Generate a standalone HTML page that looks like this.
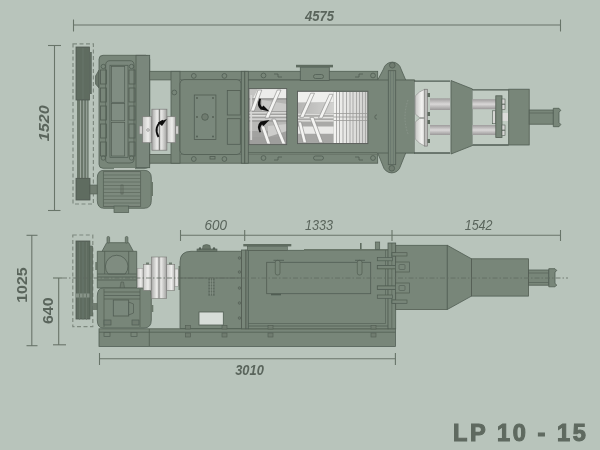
<!DOCTYPE html>
<html><head><meta charset="utf-8">
<style>
html,body{margin:0;padding:0;background:#b8c4bb;}
body{width:600px;height:450px;overflow:hidden;}
svg{display:block;}
.t{font-family:"Liberation Sans",sans-serif;font-style:italic;font-weight:bold;fill:#5a655c;font-size:14px;}
.tr{font-family:"Liberation Sans",sans-serif;font-style:italic;fill:#5a655c;font-size:14px;}
.tb{font-family:"Liberation Sans",sans-serif;font-weight:bold;fill:#5a655c;font-size:14px;}
.lp{font-family:"Liberation Sans",sans-serif;font-weight:bold;font-size:23.5px;fill:#5f6a60;stroke:#5f6a60;stroke-width:1.1px;}
</style></head><body>
<svg width="600" height="450" viewBox="0 0 600 450">
<defs>
<linearGradient id="cylv" x1="0" y1="0" x2="0" y2="1">
<stop offset="0" stop-color="#8f8f8d"/><stop offset="0.45" stop-color="#f4f4f2"/><stop offset="1" stop-color="#8a8a88"/>
</linearGradient>
<linearGradient id="cylh" x1="0" y1="0" x2="1" y2="0">
<stop offset="0" stop-color="#a8a8a6"/><stop offset="0.35" stop-color="#ececea"/><stop offset="0.5" stop-color="#c8c8c6"/><stop offset="0.65" stop-color="#e6e6e4"/><stop offset="1" stop-color="#a0a09e"/>
</linearGradient>
<linearGradient id="dome" x1="0" y1="0" x2="1" y2="0">
<stop offset="0" stop-color="#c4c4c2"/><stop offset="0.55" stop-color="#f4f4f2"/><stop offset="1" stop-color="#a2a2a0"/>
</linearGradient>
<linearGradient id="rod" x1="0" y1="0" x2="0" y2="1">
<stop offset="0" stop-color="#9e9c9c"/><stop offset="0.5" stop-color="#d9d7d7"/><stop offset="1" stop-color="#9a9898"/>
</linearGradient>
<linearGradient id="scr" x1="0" y1="0" x2="1" y2="0">
<stop offset="0" stop-color="#f4f4f2"/><stop offset="1" stop-color="#cfcfcd"/>
</linearGradient>
<linearGradient id="band" x1="0" y1="0" x2="1" y2="0">
<stop offset="0" stop-color="#b5b5b3"/><stop offset="1" stop-color="#d2d2d0"/>
</linearGradient>
<linearGradient id="hub" x1="0" y1="0" x2="1" y2="0">
<stop offset="0" stop-color="#c6c6c4"/><stop offset="0.6" stop-color="#eeeeec"/><stop offset="1" stop-color="#b2b2b0"/>
</linearGradient>
<filter id="soft" x="0" y="0" width="600" height="450" filterUnits="userSpaceOnUse"><feGaussianBlur stdDeviation="0.4"/></filter>
</defs>
<rect x="0" y="0" width="600" height="450" fill="#b8c4bb"/>
<g filter="url(#soft)"><!-- ============ TOP VIEW ============ -->
<g id="top">
<g stroke="#687469" stroke-width="1.1" fill="none">
<line x1="73" y1="25" x2="560.5" y2="25"/>
<line x1="73.5" y1="19.5" x2="73.5" y2="31.5"/>
<line x1="560.5" y1="19.5" x2="560.5" y2="31.5"/>
<line x1="54.5" y1="45" x2="54.5" y2="211"/>
<line x1="48" y1="45.5" x2="61" y2="45.5"/>
<line x1="48" y1="210.5" x2="60.5" y2="210.5"/>
</g>
<text class="t" x="305" y="20.6" textLength="29" lengthAdjust="spacingAndGlyphs">4575</text>
<text class="t" transform="translate(48.8,141.3) rotate(-90)" x="0" y="0" textLength="36" lengthAdjust="spacingAndGlyphs">1520</text>

<!-- pulley / belts -->
<rect x="73" y="43.8" width="20.4" height="160.2" fill="none" stroke="#7f8a80" stroke-width="1.2" stroke-dasharray="4,2.5"/>
<rect x="77" y="99" width="11.6" height="80" fill="#6a776b"/>
<g stroke="#a3aea4" stroke-width="0.9"><line x1="80.5" y1="99" x2="80.5" y2="178"/><line x1="83.7" y1="99" x2="83.7" y2="178"/><line x1="86.7" y1="99" x2="86.7" y2="178"/></g>
<rect x="76" y="47" width="13.4" height="53" fill="#5f6c61" stroke="#4f5a51" stroke-width="0.8"/>
<rect x="89.4" y="52" width="2.4" height="42" fill="#5f6c61"/>
<line x1="83" y1="48" x2="83" y2="99" stroke="#6c786d" stroke-width="0.8"/>
<rect x="76" y="178.3" width="14" height="21.7" fill="#5f6c61" stroke="#4f5a51" stroke-width="0.8"/>
<rect x="90" y="185" width="7.5" height="9" fill="#6f7c70" stroke="#515d53" stroke-width="0.6"/>

<!-- gearbox top -->
<path d="M99,70 L95.5,76 L95.5,84 L99,88 Z" fill="#6a776b" stroke="#515d53" stroke-width="0.7"/>
<rect x="99" y="55.3" width="50.7" height="113" rx="4" fill="#788679" stroke="#515d53" stroke-width="0.8"/>
<rect x="136" y="55.3" width="13.7" height="112.4" fill="#7a877b" stroke="#515d53" stroke-width="0.8"/>
<path d="M105.7,65 Q105.7,60.7 110,60.7 L130,60.7 Q134,60.7 134,65 L134,160 Q134,163 130,163 L110,163 Q105.7,163 105.7,160 Z" fill="#7a877b" stroke="#515d53" stroke-width="0.8"/>
<rect x="110" y="65.3" width="18" height="92" fill="#7f8c80" stroke="#515d53" stroke-width="0.8"/>
<rect x="111.5" y="66.5" width="13.2" height="35.8" fill="#808d82" stroke="#515d53" stroke-width="0.7"/>
<rect x="111.5" y="103.5" width="13.2" height="17.3" fill="#808d82" stroke="#515d53" stroke-width="0.7"/>
<rect x="111.5" y="122.4" width="13.2" height="33.6" fill="#808d82" stroke="#515d53" stroke-width="0.7"/>
<g stroke="#515d53" stroke-width="0.8" fill="none">
<rect x="100.5" y="70" width="6" height="14"/><rect x="100.5" y="88" width="6" height="14"/><rect x="100.5" y="106" width="6" height="14"/><rect x="100.5" y="124" width="6" height="14"/><rect x="100.5" y="142" width="6" height="14"/>
<rect x="129" y="70" width="6" height="14"/><rect x="129" y="88" width="6" height="14"/><rect x="129" y="106" width="6" height="14"/><rect x="129" y="124" width="6" height="14"/><rect x="129" y="142" width="6" height="14"/>
<circle cx="103.3" cy="66.5" r="2.2"/><circle cx="131.5" cy="66.5" r="2.2"/><circle cx="103.3" cy="158" r="2.2"/><circle cx="131.5" cy="158" r="2.2"/>
</g>
<rect x="114" y="168.2" width="21" height="2.2" fill="#cdd5ce"/>

<!-- motor top -->
<path d="M104,170.3 L144,170.3 Q151.3,170.3 151.3,178 L151.3,200.5 Q151.3,208.3 144,208.3 L104,208.3 Q97.3,208.3 97.3,200.5 L97.3,178 Q97.3,170.3 104,170.3 Z" fill="#788679" stroke="#515d53" stroke-width="0.8"/>
<rect x="151" y="182" width="2" height="14" fill="#6a776b"/>
<rect x="103.3" y="171.7" width="37.4" height="34.6" fill="#7d8a7e" stroke="#515d53" stroke-width="0.7"/>
<g stroke="#5b675c" stroke-width="0.7">
<line x1="103.3" y1="175" x2="140.7" y2="175"/><line x1="103.3" y1="178.5" x2="140.7" y2="178.5"/><line x1="103.3" y1="182" x2="140.7" y2="182"/><line x1="103.3" y1="185.5" x2="140.7" y2="185.5"/><line x1="103.3" y1="189" x2="140.7" y2="189"/><line x1="103.3" y1="192.5" x2="140.7" y2="192.5"/><line x1="103.3" y1="196" x2="140.7" y2="196"/><line x1="103.3" y1="199.5" x2="140.7" y2="199.5"/><line x1="103.3" y1="203" x2="140.7" y2="203"/>
</g>
<rect x="121" y="185" width="2" height="9" fill="none" stroke="#515d53" stroke-width="0.6"/>
<rect x="114" y="206" width="14.7" height="6.6" fill="#788679" stroke="#515d53" stroke-width="0.7"/>

<!-- frame beams -->
<rect x="149.7" y="71.3" width="228" height="8.6" fill="#788679" stroke="#515d53" stroke-width="0.8"/>
<rect x="149.7" y="154.5" width="228" height="8.7" fill="#788679" stroke="#515d53" stroke-width="0.8"/>
<rect x="171" y="71.3" width="9" height="91.9" fill="#788679" stroke="#515d53" stroke-width="0.8"/>

<!-- coupling top -->
<rect x="139.5" y="126" width="3.5" height="8" fill="#cfcfcd" stroke="#858583" stroke-width="0.5"/>
<rect x="175.3" y="126" width="3" height="8" fill="#cfcfcd" stroke="#858583" stroke-width="0.5"/>
<rect x="142.6" y="116.7" width="9.3" height="26" fill="url(#hub)" stroke="#7d7d7b" stroke-width="0.7"/>
<rect x="166.9" y="116.7" width="8.6" height="26" fill="url(#hub)" stroke="#7d7d7b" stroke-width="0.7"/>
<rect x="151.9" y="109.2" width="15" height="41" fill="url(#cylh)" stroke="#7d7d7b" stroke-width="0.7"/>
<line x1="159.4" y1="109.2" x2="159.4" y2="150.2" stroke="#6f6f6d" stroke-width="0.9"/>
<circle cx="148" cy="130" r="1.3" fill="none" stroke="#777" stroke-width="0.6"/>
<path d="M158.5,137 C155,131 156,124 163,120.5" stroke="#111" stroke-width="1.9" fill="none"/>
<path d="M157.8,122.5 L167,119 L162,126 Z" fill="#111"/>

<!-- body -->
<rect x="180" y="80" width="200" height="74.5" fill="#788679"/>
<rect x="180" y="79.6" width="61" height="74.9" rx="4" fill="#788679" stroke="#515d53" stroke-width="0.8"/>
<rect x="194.3" y="95" width="21.6" height="44.5" fill="#7a887b" stroke="#515d53" stroke-width="0.8"/>
<circle cx="205" cy="117" r="3.3" fill="#6f7c70" stroke="#515d53" stroke-width="0.8"/>
<g fill="#515d53"><circle cx="197" cy="98" r="0.9"/><circle cx="213" cy="98" r="0.9"/><circle cx="197" cy="136.5" r="0.9"/><circle cx="213" cy="136.5" r="0.9"/><circle cx="197" cy="117" r="0.9"/><circle cx="213" cy="117" r="0.9"/></g>
<rect x="227.3" y="90.5" width="13" height="24.5" fill="#788679" stroke="#515d53" stroke-width="0.8"/>
<rect x="227.3" y="118.7" width="13" height="25.6" fill="#788679" stroke="#515d53" stroke-width="0.8"/>
<g fill="none" stroke="#515d53" stroke-width="0.8">
<circle cx="193.8" cy="75.9" r="2.4"/><circle cx="224.4" cy="75.9" r="2.4"/><circle cx="174.3" cy="92.5" r="2.4"/>
<circle cx="193.8" cy="159" r="2.4"/><circle cx="224.4" cy="159" r="2.4"/>
<rect x="210" y="156.5" width="5" height="2.5"/>
</g>
<rect x="241.3" y="71.3" width="3.5" height="91.9" fill="#788679" stroke="#515d53" stroke-width="0.8"/>
<rect x="244.8" y="71.3" width="3.5" height="91.9" fill="#788679" stroke="#515d53" stroke-width="0.8"/>
<line x1="248" y1="80" x2="377.7" y2="80" stroke="#515d53" stroke-width="0.8"/>
<line x1="248" y1="152.7" x2="377.7" y2="152.7" stroke="#515d53" stroke-width="0.8"/>

<!-- hopper top -->
<rect x="300.3" y="67" width="29" height="13.5" fill="#788679" stroke="#515d53" stroke-width="0.8"/>
<rect x="296" y="64.8" width="37" height="2.6" fill="#5f6c61"/>
<rect x="313.5" y="74.5" width="10" height="4" rx="2" fill="none" stroke="#515d53" stroke-width="0.8"/>
<rect x="313.5" y="156" width="10" height="4" rx="2" fill="none" stroke="#515d53" stroke-width="0.8"/>
<g fill="none" stroke="#515d53" stroke-width="0.8">
<circle cx="263.5" cy="75.5" r="2.4"/><circle cx="373" cy="75.5" r="2.4"/>
<circle cx="263.5" cy="158" r="2.4"/><circle cx="373" cy="158" r="2.4"/>
<path d="M274,74 L278,74 L278,77 L282,77"/><path d="M363,74 L359,74 L359,77 L355,77"/>
<path d="M274,160 L278,160 L278,157 L282,157"/><path d="M363,160 L359,160 L359,157 L355,157"/>
</g>

<!-- screw window 1 -->
<g>
<rect x="248.9" y="88.6" width="37.8" height="56" fill="#a2a2a0"/>
<path d="M257,89 L287,89 L287,98 L253,98 Z" fill="#ececea"/>
<path d="M249,89 L258,89 L253,98 L249,98 Z" fill="#c4c4c2"/>
<path d="M249,100 L287,100 L287,111 L249,111 Z" fill="#b4b4b2"/>
<path d="M262,100 L287,104 L287,111 L262,111 Z" fill="#cacac8"/>
<rect x="249" y="112" width="38" height="1.6" fill="#d6d6d4"/>
<rect x="249" y="115" width="38" height="1.6" fill="#e0e0de"/>
<rect x="249" y="118.3" width="38" height="1.6" fill="#d6d6d4"/>
<path d="M249,122 L287,122 L287,131 L249,131 Z" fill="#b8b8b6"/>
<path d="M268,126 L287,124 L287,131 L268,137 Z" fill="#cdcdcb"/>
<rect x="249" y="137" width="38" height="7.5" fill="#9e9e9c"/>
<rect x="250.3" y="95" width="1.8" height="45" fill="#d6d6d4"/>
<g fill="#f4f4f2" stroke="#858583" stroke-width="0.6">
<path d="M250.5,111 L258,90 L261.8,90 L254.3,111 Z"/>
<path d="M265,118 L277.3,90 L281,90 L268.7,118 Z"/>
<path d="M260.8,126 L264.5,126 L270.7,144 L267,144 Z"/>
<path d="M271.8,119 L275.5,119 L285.8,144 L282.1,144 Z"/>
</g>
<path d="M259.5,98.5 Q256,105 260.5,109.5 L269.5,111.5 L263.5,105.5 L262,107 Q259.5,104 261,99 Z" fill="#111"/>
<path d="M259.5,132.5 Q256,126 260.5,121.5 L269.5,120 L263.5,126 L262,124.5 Q259.5,127 261,132 Z" fill="#111"/>
<rect x="248.9" y="88.6" width="37.8" height="56" fill="none" stroke="#5a5f5b" stroke-width="0.9"/>
</g>

<!-- screw window 2 -->
<g>
<rect x="297.5" y="91.2" width="36.1" height="52.4" fill="#a9a9a7"/>
<path d="M298,92 L333.6,92 L333.6,102.6 L298,102.6 Z" fill="#efefed"/>
<path d="M298,103 L333.6,103 L333.6,113 L298,113 Z" fill="url(#band)"/>
<rect x="298" y="113.5" width="35.6" height="1.6" fill="#dcdcda"/>
<rect x="298" y="116.8" width="35.6" height="1.6" fill="#e4e4e2"/>
<rect x="298" y="120" width="35.6" height="1.6" fill="#dcdcda"/>
<path d="M298,126.5 L333.6,126.5 L333.6,133.7 L298,133.7 Z" fill="#e9e9e7"/>
<path d="M298,134 L333.6,134 L333.6,143 L298,143 Z" fill="#a6a6a4"/>
<g fill="#f4f4f2" stroke="#858583" stroke-width="0.6">
<path d="M299.8,117.4 L310.7,93.2 L314.5,93.2 L303.6,117.4 Z"/>
<path d="M318.5,118.2 L329.4,94.3 L333.2,94.3 L322.3,118.2 Z"/>
<path d="M309.9,117.4 L313.7,117.4 L323.1,142.8 L319.3,142.8 Z"/>
<path d="M298,122 L301.3,122 L306.7,142.8 L303.2,142.8 Z"/>
</g>
<rect x="333.6" y="92" width="34" height="51" fill="url(#scr)"/>
<g stroke="#a3a3a1" stroke-width="0.9">
<line x1="336.5" y1="92" x2="336.5" y2="143"/><line x1="339.5" y1="92" x2="339.5" y2="143"/><line x1="343" y1="92" x2="343" y2="143"/><line x1="346.5" y1="92" x2="346.5" y2="143"/><line x1="350" y1="92" x2="350" y2="143"/><line x1="353" y1="92" x2="353" y2="143"/><line x1="356.5" y1="92" x2="356.5" y2="143"/><line x1="359.5" y1="92" x2="359.5" y2="143"/><line x1="362.5" y1="92" x2="362.5" y2="143"/><line x1="365.5" y1="92" x2="365.5" y2="143"/>
</g>
<g stroke="#9a9a98" stroke-width="0.8">
<line x1="333.6" y1="113.5" x2="367" y2="113.5"/><line x1="333.6" y1="117" x2="367" y2="117"/><line x1="333.6" y1="120.5" x2="367" y2="120.5"/>
</g>
<rect x="297.5" y="91.2" width="70.4" height="52.4" fill="none" stroke="#5a5f5b" stroke-width="0.9"/>
</g>
<circle cx="377" cy="117" r="2.2" fill="none" stroke="#515d53" stroke-width="0.8"/>

<!-- flange -->
<rect x="377" y="79.5" width="37.7" height="74" fill="#788679"/>
<path d="M377.7,80 L383.5,69 A9,9 0 0 1 401,69 L405.7,80" fill="#788679" stroke="#515d53" stroke-width="0.8"/>
<path d="M377.7,153 L383,166 A9,9 0 0 0 400.5,166 L405.7,153" fill="#788679" stroke="#515d53" stroke-width="0.8"/>
<line x1="377" y1="80" x2="414.7" y2="80" stroke="#515d53" stroke-width="0.8"/>
<line x1="377" y1="153" x2="414.7" y2="153" stroke="#515d53" stroke-width="0.8"/>
<line x1="414.7" y1="80" x2="414.7" y2="153" stroke="#515d53" stroke-width="0.8"/>
<rect x="388.3" y="70.7" width="7.4" height="94" fill="#788679" stroke="#515d53" stroke-width="0.8"/>
<line x1="390.5" y1="71" x2="390.5" y2="164" stroke="#65726a" stroke-width="0.6"/>
<line x1="393.5" y1="71" x2="393.5" y2="164" stroke="#65726a" stroke-width="0.6"/>
<circle cx="392.3" cy="65.3" r="2.8" fill="#6f7c70" stroke="#515d53" stroke-width="0.8"/>
<circle cx="391.8" cy="168.3" r="2.8" fill="#6f7c70" stroke="#515d53" stroke-width="0.8"/>

<!-- head -->
<rect x="414.7" y="81" width="35.3" height="72" fill="#c0cbc2"/>
<g stroke="#515d53" stroke-width="1.3"><line x1="414" y1="81.2" x2="450" y2="81.2"/><line x1="414" y1="153" x2="450" y2="153"/></g>
<path d="M408,100 Q402,117 408,134" fill="none" stroke="#8d988e" stroke-width="0.8" stroke-dasharray="1.5,1.5"/>
<path d="M451,80.5 L472.5,89 L472.5,145.5 L451,154 Z" fill="#788679" stroke="#515d53" stroke-width="0.8"/>
<rect x="472.5" y="90" width="36.2" height="55" fill="#c0cbc2"/>
<g stroke="#515d53" stroke-width="1.3"><line x1="472.5" y1="89.8" x2="508.7" y2="89.8"/><line x1="472.5" y1="145" x2="508.7" y2="145"/></g>
<rect x="508.7" y="89.2" width="20.5" height="55.8" fill="#788679" stroke="#515d53" stroke-width="0.8"/>
<rect x="529.2" y="110" width="24.1" height="14.2" fill="#788679" stroke="#515d53" stroke-width="0.8"/>
<line x1="529.2" y1="113" x2="553.3" y2="113" stroke="#515d53" stroke-width="0.6"/>
<path d="M553.3,108.3 L559,108.3 L560.8,110.5 L559,112 L559,122.5 L560.8,124.5 L559,126.7 L553.3,126.7 Z" fill="#788679" stroke="#515d53" stroke-width="0.8"/>

<!-- domes -->
<path d="M424.5,89.3 L427.5,89.3 L427.5,117.5 L419.5,117.5 L415.2,114 L415.2,96 Q419,91.5 424.5,89.3 Z" fill="url(#dome)" stroke="#8a8a88" stroke-width="0.6"/>
<path d="M424.5,146 L427.5,146 L427.5,118.5 L419.5,118.5 L415.2,122 L415.2,139 Q419,143.5 424.5,146 Z" fill="url(#dome)" stroke="#8a8a88" stroke-width="0.6"/>
<rect x="424.3" y="89.3" width="3.4" height="56.7" fill="#bcbcba" stroke="#7a7a78" stroke-width="0.6"/>
<g fill="#5f6c61"><rect x="427.5" y="93" width="2.5" height="4"/><rect x="427.5" y="112" width="2.5" height="4"/><rect x="427.5" y="120" width="2.5" height="4"/><rect x="427.5" y="139" width="2.5" height="4"/></g>
<rect x="430" y="98.3" width="20" height="11.7" fill="url(#rod)"/>
<rect x="430" y="125" width="20" height="10" fill="url(#rod)"/>
<rect x="472.5" y="99.2" width="24" height="10" fill="url(#rod)"/>
<rect x="472.5" y="125" width="24" height="10" fill="url(#rod)"/>
<rect x="492.5" y="110.8" width="3.3" height="12.9" fill="#d6d6d4" stroke="#515d53" stroke-width="0.6"/>
<rect x="502" y="113" width="6" height="8" fill="#dcdcda"/>
<rect x="495.8" y="95.8" width="6.2" height="41.7" fill="#788679" stroke="#515d53" stroke-width="0.8"/>
<g fill="#d6d6d4" stroke="#515d53" stroke-width="0.6"><rect x="502" y="99" width="3" height="5"/><rect x="502" y="104.5" width="3" height="5"/><rect x="502" y="125" width="3" height="5"/><rect x="502" y="130.5" width="3" height="5"/></g>
</g>
<!-- ============ SIDE VIEW ============ -->
<g id="side">
<g stroke="#687469" stroke-width="1.1" fill="none">
<line x1="180" y1="235.3" x2="560.5" y2="235.3"/>
<line x1="180.5" y1="230" x2="180.5" y2="241"/>
<line x1="244.7" y1="230" x2="244.7" y2="241"/>
<line x1="392" y1="230" x2="392" y2="241"/>
<line x1="560.5" y1="230" x2="560.5" y2="241"/>
<line x1="31.8" y1="235" x2="31.8" y2="346"/>
<line x1="26.5" y1="235.3" x2="37.5" y2="235.3"/>
<line x1="26.5" y1="345.7" x2="37.5" y2="345.7"/>
<line x1="58.7" y1="278" x2="58.7" y2="345"/>
<line x1="53" y1="278" x2="62" y2="278"/>
<line x1="53" y1="344.8" x2="66" y2="344.8"/>
<line x1="99.5" y1="358.8" x2="395.4" y2="358.8"/>
<line x1="99.5" y1="353" x2="99.5" y2="365"/>
<line x1="395.4" y1="353" x2="395.4" y2="365"/>
</g>
<text class="tr" x="204.5" y="230.3" textLength="22.5" lengthAdjust="spacingAndGlyphs">600</text>
<text class="tr" x="305" y="230.3" textLength="28" lengthAdjust="spacingAndGlyphs">1333</text>
<text class="tr" x="464.7" y="230.3" textLength="27.8" lengthAdjust="spacingAndGlyphs">1542</text>
<text class="t" x="235.2" y="375.4" textLength="28.6" lengthAdjust="spacingAndGlyphs">3010</text>
<text class="tb" transform="translate(26.8,302.8) rotate(-90)" x="0" y="0" textLength="35.5" lengthAdjust="spacingAndGlyphs">1025</text>
<text class="tb" transform="translate(53.3,324) rotate(-90)" x="0" y="0" textLength="26.5" lengthAdjust="spacingAndGlyphs">640</text>

<!-- pulley dashed -->
<rect x="72.8" y="235" width="20" height="91.7" fill="none" stroke="#7f8a80" stroke-width="1.2" stroke-dasharray="4,2.5"/>
<rect x="76" y="241" width="13.9" height="78" fill="#5f6c61" stroke="#4f5a51" stroke-width="0.8"/>
<g stroke="#6f7b70" stroke-width="0.7"><line x1="79.5" y1="242" x2="79.5" y2="320"/><line x1="83" y1="242" x2="83" y2="320"/><line x1="86.5" y1="242" x2="86.5" y2="320"/></g>
<rect x="76" y="293.5" width="13.9" height="4" fill="#879388"/>
<g stroke="#5f6c61" stroke-width="0.8"><line x1="79.5" y1="293.5" x2="79.5" y2="297.5"/><line x1="83" y1="293.5" x2="83" y2="297.5"/><line x1="86.5" y1="293.5" x2="86.5" y2="297.5"/></g>
<rect x="89.9" y="246" width="2.8" height="70" fill="#6a776b" stroke="#515d53" stroke-width="0.5"/>
<rect x="92.7" y="303" width="4.6" height="7" fill="#6f7c70"/>

<!-- base rail -->
<rect x="99" y="328.8" width="296.4" height="17.6" fill="#788679" stroke="#515d53" stroke-width="0.8"/>
<line x1="99" y1="332.2" x2="395.4" y2="332.2" stroke="#515d53" stroke-width="0.8"/>
<line x1="149.3" y1="329" x2="149.3" y2="346" stroke="#515d53" stroke-width="0.8"/>

<!-- gearbox side -->
<path d="M97.3,251.3 L102,251.3 L106.7,242.7 L128.7,242.7 L133.3,251.3 L136.7,251.3 L136.7,288 L97.3,288 Z" fill="#788679" stroke="#515d53" stroke-width="0.8"/>
<g fill="#788679" stroke="#515d53" stroke-width="0.7"><rect x="107" y="236.5" width="2.6" height="6.5" rx="1.2"/><rect x="125.3" y="236.5" width="2.6" height="6.5" rx="1.2"/></g>
<line x1="102" y1="251.3" x2="133.3" y2="251.3" stroke="#515d53" stroke-width="0.8"/>
<path d="M108.2,274 A11.3,11.3 0 1 1 125.2,274 Z" fill="#7f8c80" stroke="#515d53" stroke-width="0.8"/>
<g stroke="#515d53" stroke-width="0.8"><line x1="104.7" y1="251.3" x2="104.7" y2="274"/><line x1="128.7" y1="251.3" x2="128.7" y2="274"/>
<line x1="97.3" y1="274" x2="136.7" y2="274"/><line x1="97.3" y1="277" x2="136.7" y2="277"/><line x1="97.3" y1="280" x2="136.7" y2="280"/></g>
<rect x="95.3" y="262" width="2" height="8" fill="#6a776b"/>
<path d="M120,288 L121,282 L123.5,282 L124.5,288 Z" fill="#6f7c70" stroke="#515d53" stroke-width="0.6"/>

<!-- motor side -->
<path d="M103,288 L140,288 L146,288 Q151.3,288 151.3,296 L151.3,320 Q151.3,328 144,328 L103,328 Q97.3,328 97.3,320 L97.3,296 Q97.3,288 103,288 Z" fill="#788679" stroke="#515d53" stroke-width="0.8"/>
<g stroke="#515d53" stroke-width="0.7"><line x1="104" y1="292" x2="140" y2="292"/><line x1="104" y1="295.5" x2="140" y2="295.5"/><line x1="104" y1="299" x2="140" y2="299"/><line x1="140" y1="289" x2="140" y2="327"/><line x1="104" y1="289" x2="104" y2="327"/></g>
<rect x="113.3" y="300" width="15.4" height="16" fill="#7a887b" stroke="#515d53" stroke-width="0.8"/>
<path d="M128.7,302 L133.5,304 L133.5,313 L128.7,315 Z" fill="#788679" stroke="#515d53" stroke-width="0.7"/>
<g fill="#6f7c70" stroke="#515d53" stroke-width="0.7"><rect x="104" y="320" width="7" height="5"/><rect x="132" y="320" width="7" height="5"/></g>
<rect x="151.3" y="305" width="2" height="7" fill="#6a776b"/>
<g fill="#788679" stroke="#515d53" stroke-width="0.7"><rect x="104" y="332.5" width="6" height="4"/><rect x="131" y="332.5" width="6" height="4"/></g>

<!-- coupling side -->
<rect x="137.3" y="268.3" width="6" height="19.4" fill="url(#hub)" stroke="#8a8a88" stroke-width="0.5"/>
<rect x="143.3" y="264.3" width="8" height="26" fill="url(#hub)" stroke="#7d7d7b" stroke-width="0.6"/>
<rect x="151.3" y="257" width="15.4" height="41.3" fill="url(#cylh)" stroke="#7d7d7b" stroke-width="0.6"/>
<line x1="159" y1="257" x2="159" y2="298.3" stroke="#6f6f6d" stroke-width="0.8"/>
<rect x="166.7" y="264.3" width="8" height="26" fill="url(#hub)" stroke="#7d7d7b" stroke-width="0.6"/>
<rect x="174.7" y="269" width="4" height="17.3" fill="url(#hub)" stroke="#8a8a88" stroke-width="0.5"/>
<rect x="178.5" y="266" width="2" height="24" fill="#6a776b"/>
<g fill="#6f7c70"><rect x="146" y="262.5" width="3" height="2"/><rect x="169" y="262.5" width="3" height="2"/></g>

<!-- gear housing side -->
<path d="M180,262 Q180,251.3 191,251.3 L241.5,251.3 L241.5,328.5 L180,328.5 Z" fill="#788679" stroke="#515d53" stroke-width="0.8"/>
<rect x="197" y="249" width="20" height="2.3" fill="#6a776b" stroke="#515d53" stroke-width="0.6"/>
<path d="M202.5,249 L203,245.5 Q206.5,243.5 210,245.5 L210.5,249 Z" fill="#6a776b" stroke="#515d53" stroke-width="0.6"/>
<circle cx="200" cy="248.5" r="1.2" fill="#515d53"/><circle cx="214" cy="248.5" r="1.2" fill="#515d53"/>
<line x1="180" y1="278" x2="241.5" y2="278" stroke="#515d53" stroke-width="0.6"/>
<rect x="199" y="312" width="24.3" height="13" fill="#d7ddd8" stroke="#515d53" stroke-width="0.8"/>
<rect x="208.3" y="278" width="6.4" height="17.7" fill="#5f6c61"/>
<g stroke="#8e9a8f" stroke-width="0.6"><line x1="208.3" y1="281" x2="214.7" y2="281"/><line x1="208.3" y1="284" x2="214.7" y2="284"/><line x1="208.3" y1="287" x2="214.7" y2="287"/><line x1="208.3" y1="290" x2="214.7" y2="290"/><line x1="208.3" y1="293" x2="214.7" y2="293"/><line x1="210.5" y1="278" x2="210.5" y2="295.7"/><line x1="212.5" y1="278" x2="212.5" y2="295.7"/></g>
<g fill="#6f7c70" stroke="#515d53" stroke-width="0.6">
<rect x="185.5" y="325.5" width="5" height="3.5"/><rect x="222" y="325.5" width="5" height="3.5"/>
<rect x="185.5" y="333" width="5" height="4"/><rect x="222" y="333" width="5" height="4"/>
<circle cx="239.5" cy="258" r="1.3"/><circle cx="239.5" cy="272" r="1.3"/><circle cx="239.5" cy="288" r="1.3"/><circle cx="239.5" cy="303" r="1.3"/><circle cx="239.5" cy="318" r="1.3"/>
<circle cx="250.5" cy="258" r="1.3"/><circle cx="250.5" cy="272" r="1.3"/><circle cx="250.5" cy="288" r="1.3"/><circle cx="250.5" cy="303" r="1.3"/><circle cx="250.5" cy="318" r="1.3"/>
</g>
<rect x="241.5" y="250" width="4.5" height="78.8" fill="#788679" stroke="#515d53" stroke-width="0.8"/>
<rect x="246" y="250" width="2.3" height="78.8" fill="#788679" stroke="#515d53" stroke-width="0.8"/>

<!-- main body side -->
<rect x="248.3" y="250.3" width="140" height="78.5" fill="#788679" stroke="#515d53" stroke-width="0.8"/>
<rect x="304" y="249" width="84.3" height="2" fill="#6a776b"/>
<rect x="243.3" y="244" width="48" height="2.4" fill="#5f6c61"/>
<rect x="247.3" y="246.4" width="40" height="3.9" fill="#788679" stroke="#515d53" stroke-width="0.6"/>
<rect x="266.7" y="262.3" width="104" height="31.4" fill="#788679" stroke="#515d53" stroke-width="0.8"/>
<rect x="275.3" y="260.3" width="4.7" height="14.7" rx="2" fill="#788679" stroke="#515d53" stroke-width="0.7"/>
<line x1="273.5" y1="260.3" x2="284" y2="260.3" stroke="#515d53" stroke-width="0.9"/>
<rect x="357.3" y="260.3" width="4.7" height="14.7" rx="2" fill="#788679" stroke="#515d53" stroke-width="0.7"/>
<line x1="355" y1="260.3" x2="365" y2="260.3" stroke="#515d53" stroke-width="0.9"/>
<rect x="271" y="293.7" width="10" height="1.6" fill="#515d53"/>
<rect x="360" y="243" width="1.6" height="6.5" fill="#5f6c61"/>
<rect x="375.3" y="242" width="4.4" height="7.5" fill="#788679" stroke="#515d53" stroke-width="0.7"/>
<!-- L frame lower -->
<path d="M248.3,326 L389,326 L389,250" fill="none" stroke="#515d53" stroke-width="0.8"/>
<path d="M248.3,323.5 L385.5,323.5 L385.5,250" fill="none" stroke="#515d53" stroke-width="0.6"/>
<g fill="#6f7c70" stroke="#515d53" stroke-width="0.6"><rect x="268" y="325.5" width="5" height="3.5"/><rect x="268" y="333" width="5" height="4"/><rect x="371" y="325.5" width="5" height="3.5"/><rect x="371" y="333" width="5" height="4"/></g>

<!-- vertical plate & bolts -->
<rect x="388" y="243" width="7.7" height="85.8" fill="#788679" stroke="#515d53" stroke-width="0.8"/>
<line x1="391.8" y1="243" x2="391.8" y2="328" stroke="#515d53" stroke-width="0.6"/>
<g fill="#788679" stroke="#515d53" stroke-width="0.7">
<rect x="392" y="252.7" width="15" height="3.3"/>
<rect x="377.3" y="257.5" width="15" height="3.3"/>
<rect x="377.3" y="265.5" width="30" height="3.3"/>
<rect x="395.5" y="262" width="14" height="10"/>
<rect x="377.3" y="286" width="30" height="3.3"/>
<rect x="395.5" y="283" width="14" height="10"/>
<rect x="377.3" y="295" width="15" height="3.3"/>
<rect x="392" y="300" width="15" height="3.3"/>
</g>
<g fill="none" stroke="#515d53" stroke-width="0.6"><rect x="399" y="264.5" width="6" height="5" rx="1"/><rect x="399" y="285.5" width="6" height="5" rx="1"/></g>

<!-- cylinder / cone -->
<rect x="395.7" y="245.3" width="51.6" height="64.2" fill="#788679" stroke="#515d53" stroke-width="0.8"/>
<g fill="#788679" stroke="#515d53" stroke-width="0.7">
<rect x="392" y="252.7" width="15" height="3.3"/>
<rect x="377.3" y="265.5" width="30" height="3.3"/>
<rect x="395.5" y="262" width="14" height="10"/>
<rect x="377.3" y="286" width="30" height="3.3"/>
<rect x="395.5" y="283" width="14" height="10"/>
<rect x="392" y="300" width="15" height="3.3"/>
</g>
<g fill="none" stroke="#515d53" stroke-width="0.6"><rect x="399" y="264.5" width="6" height="5" rx="1"/><rect x="399" y="285.5" width="6" height="5" rx="1"/></g>
<path d="M447.3,245.3 L471.5,258.8 L471.5,296.1 L447.3,309.5 Z" fill="#788679" stroke="#515d53" stroke-width="0.8"/>
<rect x="471.5" y="258.8" width="57" height="37.3" fill="#788679" stroke="#515d53" stroke-width="0.8"/>
<rect x="528.5" y="270" width="20.3" height="15.2" fill="#788679" stroke="#515d53" stroke-width="0.8"/>
<line x1="528.5" y1="273" x2="548.8" y2="273" stroke="#515d53" stroke-width="0.6"/><line x1="528.5" y1="282.5" x2="548.8" y2="282.5" stroke="#515d53" stroke-width="0.6"/>
<path d="M548.8,268.7 L555,268.7 L556.8,270.5 L555,272 L555,283.5 L556.8,285 L555,286.8 L548.8,286.8 Z" fill="#788679" stroke="#515d53" stroke-width="0.8"/>
<line x1="62" y1="278" x2="568" y2="278" stroke="#5f6b60" stroke-width="0.8" stroke-dasharray="5,2,1.5,2"/>
</g>

<text x="452.9" y="441.3" class="lp" textLength="133" lengthAdjust="spacing">LP 10 - 15</text>
</g></svg>
</body></html>
